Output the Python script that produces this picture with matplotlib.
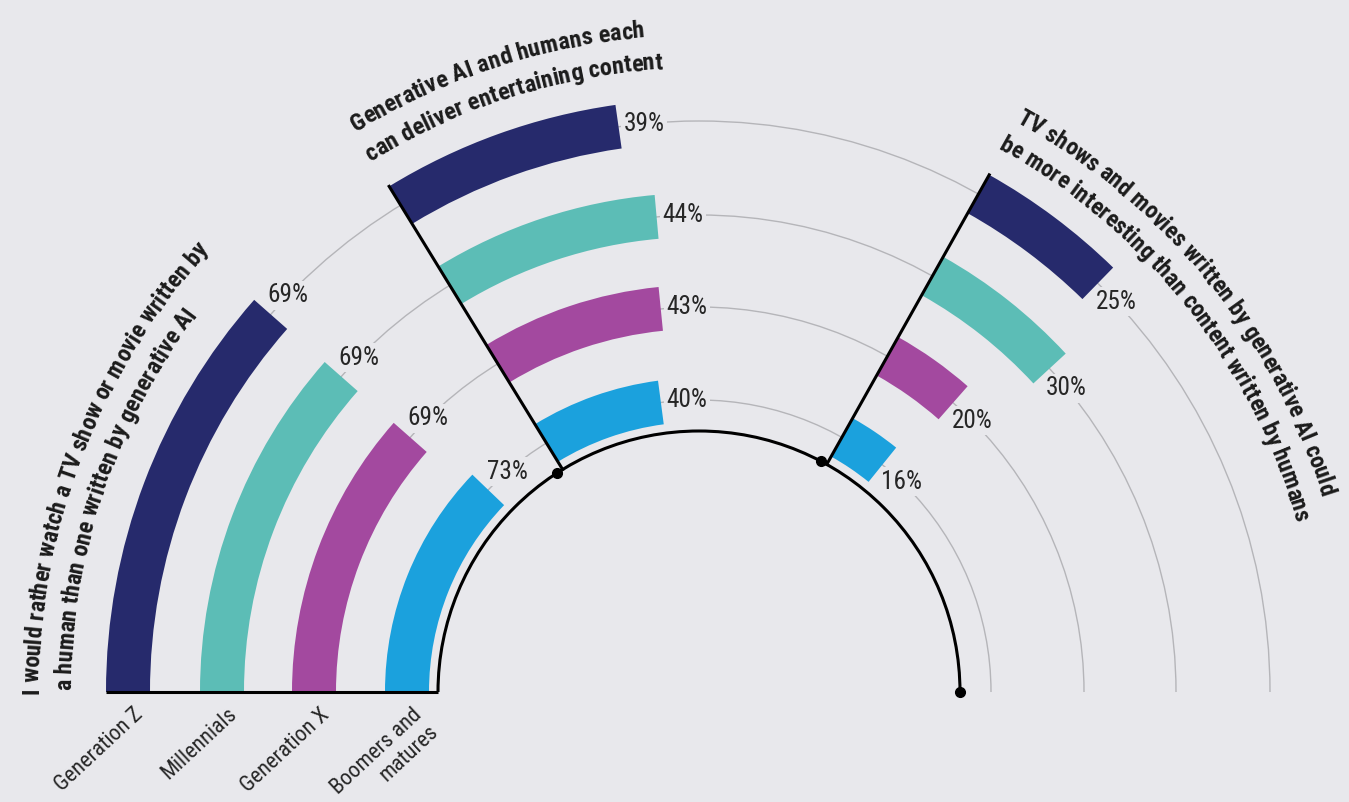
import math
import matplotlib
matplotlib.use('Agg')
import matplotlib.pyplot as plt
from matplotlib import font_manager as fm
from matplotlib.patches import Wedge, Arc

# ---- data ----
groups = ['Generation Z', 'Millennials', 'Generation X', 'Boomers and\nmatures']
bar_colors = ['#262a6c', '#5cbdb6', '#a3499f', '#1ba1dd']
rather_human = [69, 69, 69, 73]
both_entertaining = [39, 44, 43, 40]
ai_more_interesting = [25, 30, 20, 16]
section_values = [rather_human, both_entertaining, ai_more_interesting]
section_titles = [
    ['I would rather watch a TV show or movie written by',
     'a human than one written by generative AI'],
    ['Generative AI and humans each',
     'can deliver entertaining content'],
    ['TV shows and movies written by generative AI could',
     'be more interesting than content written by humans'],
]

# ---- layout (pixel units, y up) ----
BG = '#e8e8ec'
W, H = 1349, 802
CX, CY = 699, 110
RINGS = [571, 477, 385, 292]
BAR_W = 44
R_AXIS = 261
SECTION_START = [180, 121.5, 60.7]
DOT_ANGLES = [123.0, 62.2, 0]
DEG_PER_PCT = 0.6
# title arcs: (r1, start1, end1, r2, start2, end2)
TITLE_ARCS = [(660, 180.2, 136.8, 628, 179.8, 144.0),
              (657, 121.5, 94.3, 624, 121.8, 93.8),
              (652, 61.0, 16.5, 620, 61.2, 16.8)]


def pick_font(want):
    rank = ['roboto', 'liberation', 'noto', 'open', 'lato', 'dejavu']
    best = None
    for f in fm.fontManager.ttflist:
        tag = (f.name + ' ' + str(f.stretch) + ' ' + f.fname).lower()
        if f.style != 'normal' or 'serif' in tag or 'mono' in tag:
            continue
        if 'condensed' not in tag and 'narrow' not in tag:
            continue
        if 'extra' in tag or 'ultra' in tag:
            continue
        w = f.weight if isinstance(f.weight, int) else fm.weight_dict.get(f.weight, 400)
        r = next((k for k, n in enumerate(rank) if n in tag), len(rank))
        key = (abs(w - want) > 100, 'semi' in tag, r, abs(w - want))
        if best is None or key < best[0]:
            best = (key, f.fname)
    if best is None:
        return fm.findfont(fm.FontProperties(family='DejaVu Sans',
                                             weight='bold' if want > 500 else 'normal'))
    return best[1]


def em_widths(text, fpath):
    font = fm.get_font(fpath)
    font.set_size(100, 72)
    out = []
    for ch in text:
        g = font.load_char(ord(ch))
        out.append(g.linearHoriAdvance / 65536 / 100)
    return out


def fit_size(text, r, a_start, a_end, fpath):
    return r * math.radians(a_start - a_end) / sum(em_widths(text, fpath))


def curved_text(ax, text, r, a_start, fs_px, fpath):
    ems = em_widths(text, fpath)
    prop = fm.FontProperties(fname=fpath, size=fs_px * 0.72)
    pen = 0
    for ch, em in zip(text, ems):
        w = em * fs_px
        a = math.radians(a_start) - (pen + w / 2) / r
        pen += w
        if ch == ' ':
            continue
        ax.text(CX + r * math.cos(a), CY + r * math.sin(a), ch,
                rotation=math.degrees(a) - 90, rotation_mode='anchor',
                ha='center', va='baseline', fontproperties=prop,
                color='#1b1b1b', zorder=5)


bold_font = pick_font(800)
reg_font = pick_font(400)

fig = plt.figure(figsize=(13.49, 8.02), dpi=100, facecolor=BG)
ax = fig.add_axes([0, 0, 1, 1])
ax.set_xlim(0, W)
ax.set_ylim(0, H)
ax.set_facecolor(BG)
ax.axis('off')

# thin grey guide rings
for r in RINGS:
    ax.add_patch(Arc((CX, CY), 2 * r, 2 * r, theta1=0, theta2=180,
                     lw=1.0, color='#b5b5b9', zorder=1))

# label fonts sized to the reference widths
lbl_px = 41 / sum(em_widths('69%', reg_font))
lbl_prop = fm.FontProperties(fname=reg_font, size=lbl_px * 0.72)

for start, vals in zip(SECTION_START, section_values):
    for i, v in enumerate(vals):
        sweep = v * DEG_PER_PCT
        ax.add_patch(Wedge((CX, CY), RINGS[i] + BAR_W / 2, start - sweep, start,
                           width=BAR_W, facecolor=bar_colors[i],
                           edgecolor='none', zorder=2))
        a = math.radians(start - sweep) - 26 / RINGS[i]
        ax.text(CX + RINGS[i] * math.cos(a), CY + RINGS[i] * math.sin(a),
                f'{v}%', ha='center', va='center', fontproperties=lbl_prop,
                color='#262626', zorder=1.5,
                bbox=dict(boxstyle='square,pad=0.1', fc=BG, ec='none'))

# black axis: baseline, inner arc, separators, dots
ax.plot([CX - RINGS[0] - BAR_W / 2, CX - R_AXIS], [CY, CY],
        color='black', lw=2.2, zorder=3, solid_capstyle='butt')
ax.add_patch(Arc((CX, CY), 2 * R_AXIS, 2 * R_AXIS, theta1=0, theta2=180,
                 lw=2.2, color='black', zorder=3))
for a in SECTION_START[1:]:
    t = math.radians(a)
    ax.plot([CX + R_AXIS * math.cos(t), CX + (RINGS[0] + BAR_W / 2) * math.cos(t)],
            [CY + R_AXIS * math.sin(t), CY + (RINGS[0] + BAR_W / 2) * math.sin(t)],
            color='black', lw=2.2, zorder=3)
for a in DOT_ANGLES:
    t = math.radians(a)
    ax.plot(CX + R_AXIS * math.cos(t), CY + R_AXIS * math.sin(t), 'o',
            color='black', ms=7, zorder=4)

# curved titles (both lines share one size per title)
for lines, (r1, s1, e1, r2, s2, e2) in zip(section_titles, TITLE_ARCS):
    fs = (fit_size(lines[0], r1, s1, e1, bold_font)
          + fit_size(lines[1], r2, s2, e2, bold_font)) / 2
    curved_text(ax, lines[0], r1, s1, fs, bold_font)
    curved_text(ax, lines[1], r2, s2, fs, bold_font)

# group names under the left bars, one text per line so the boxes stay tight
cat_px = 112 / sum(em_widths('Generation Z', reg_font))
cat_prop = fm.FontProperties(fname=reg_font, size=cat_px * 0.72)
rot = 43
step = 1.05 * cat_px
for i, name in enumerate(groups):
    for j, part in enumerate(name.split('\n')):
        x0 = CX - RINGS[i] + 5 + j * step * math.sin(math.radians(rot))
        y0 = CY - 12 - j * step * math.cos(math.radians(rot))
        ax.text(x0, y0, part, rotation=rot, rotation_mode='anchor',
                ha='right', va='top', fontproperties=cat_prop, color='#262626')

fig.savefig('out.png', dpi=100, facecolor=BG)
